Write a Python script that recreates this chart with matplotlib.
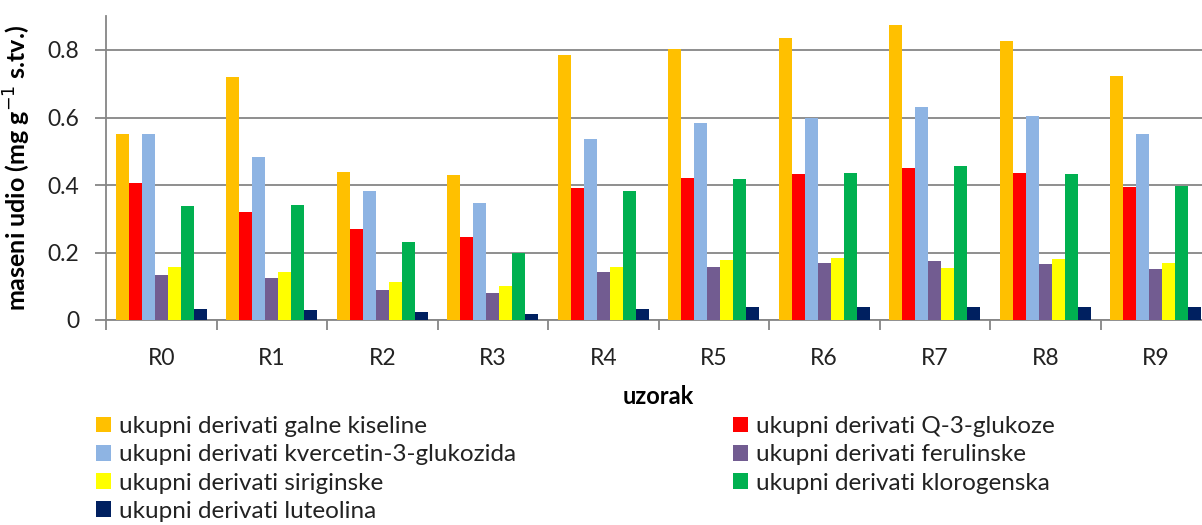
import numpy as np
import matplotlib.pyplot as plt
from matplotlib.patches import Patch

plt.rcParams['font.family'] = ['Lato', 'DejaVu Sans']

# data
uzorci = ['R0', 'R1', 'R2', 'R3', 'R4', 'R5', 'R6', 'R7', 'R8', 'R9']
galne = [0.550, 0.721, 0.440, 0.429, 0.785, 0.804, 0.835, 0.873, 0.827, 0.724]
q3_glukoze = [0.406, 0.319, 0.269, 0.246, 0.390, 0.420, 0.432, 0.451, 0.436, 0.395]
kvercetin = [0.550, 0.482, 0.382, 0.346, 0.535, 0.584, 0.600, 0.630, 0.603, 0.550]
ferulinske = [0.132, 0.124, 0.090, 0.079, 0.143, 0.158, 0.170, 0.174, 0.166, 0.151]
siriginske = [0.158, 0.143, 0.113, 0.102, 0.158, 0.178, 0.185, 0.155, 0.182, 0.170]
klorogenska = [0.337, 0.341, 0.231, 0.200, 0.382, 0.417, 0.436, 0.455, 0.432, 0.398]
luteolina = [0.033, 0.029, 0.023, 0.018, 0.033, 0.038, 0.038, 0.038, 0.038, 0.038]

serije = [galne, q3_glukoze, kvercetin, ferulinske, siriginske, klorogenska, luteolina]
nazivi = ['ukupni derivati galne kiseline',
          'ukupni derivati Q-3-glukoze',
          'ukupni derivati kvercetin-3-glukozida',
          'ukupni derivati ferulinske',
          'ukupni derivati siriginske',
          'ukupni derivati klorogenska',
          'ukupni derivati luteolina']
boje = ['#FFC000', '#FF0000', '#8EB4E3', '#725C91', '#FFFF00', '#00B050', '#002060']

fig = plt.figure(figsize=(12.02, 5.25), dpi=100)
ax = fig.add_axes([106/1202, 1-320/525, 1105/1202, (320-16.25)/525])

ind = np.arange(len(uzorci))
width = 0.118
for i, (vals, c) in enumerate(zip(serije, boje)):
    ax.bar(ind + (i-3)*width, vals, width, color=c, zorder=3)

ax.set_xlim(-0.5, len(uzorci)-0.5)
ax.set_ylim(0, 0.9)
ax.set_yticks([0, 0.2, 0.4, 0.6, 0.8])
ax.set_yticklabels(['0', '0.2', '0.4', '0.6', '0.8'])
ax.yaxis.grid(True, color='#868686', linewidth=1.3, zorder=0)

ax.set_xticks(ind)
ax.set_xticklabels(uzorci)
ax.set_xticks(np.arange(-0.5, len(uzorci)), minor=True)
ax.tick_params(axis='x', which='major', length=0, pad=20, labelsize=16.5, colors='#222222')
ax.tick_params(axis='x', which='minor', length=7, width=1.3, color='#868686')
ax.tick_params(axis='y', length=8, width=1.3, color='#868686', pad=11, labelsize=16.5,
               labelcolor='#222222')

for s in ['top', 'right']:
    ax.spines[s].set_visible(False)
for s in ['left', 'bottom']:
    ax.spines[s].set_color('#868686')
    ax.spines[s].set_linewidth(1.3)

ax.set_ylabel('maseni udio (mg g$^{-1}$ s.tv.)', fontsize=18, fontweight='bold')
ax.yaxis.set_label_coords(-0.066, 0.5)
fig.text(658/1202, 1-396/525, 'uzorak', fontsize=17, fontweight='bold', ha='center', va='center')

# legend in two columns, like Excel
lijevo = [0, 2, 4, 6]
desno = [1, 3, 5]
for idx, x0 in [(lijevo, 96/1202), (desno, 733/1202)]:
    h = [Patch(facecolor=boje[i]) for i in idx]
    l = [nazivi[i] for i in idx]
    fig.legend(h, l, loc='upper left', bbox_to_anchor=(x0, 1-416/525), frameon=False,
               fontsize=17.5, handlelength=0.62, handleheight=0.62, handletextpad=0.33,
               labelspacing=0.3, borderaxespad=0, borderpad=0, labelcolor='#222222')

fig.savefig('out.png', dpi=100)
